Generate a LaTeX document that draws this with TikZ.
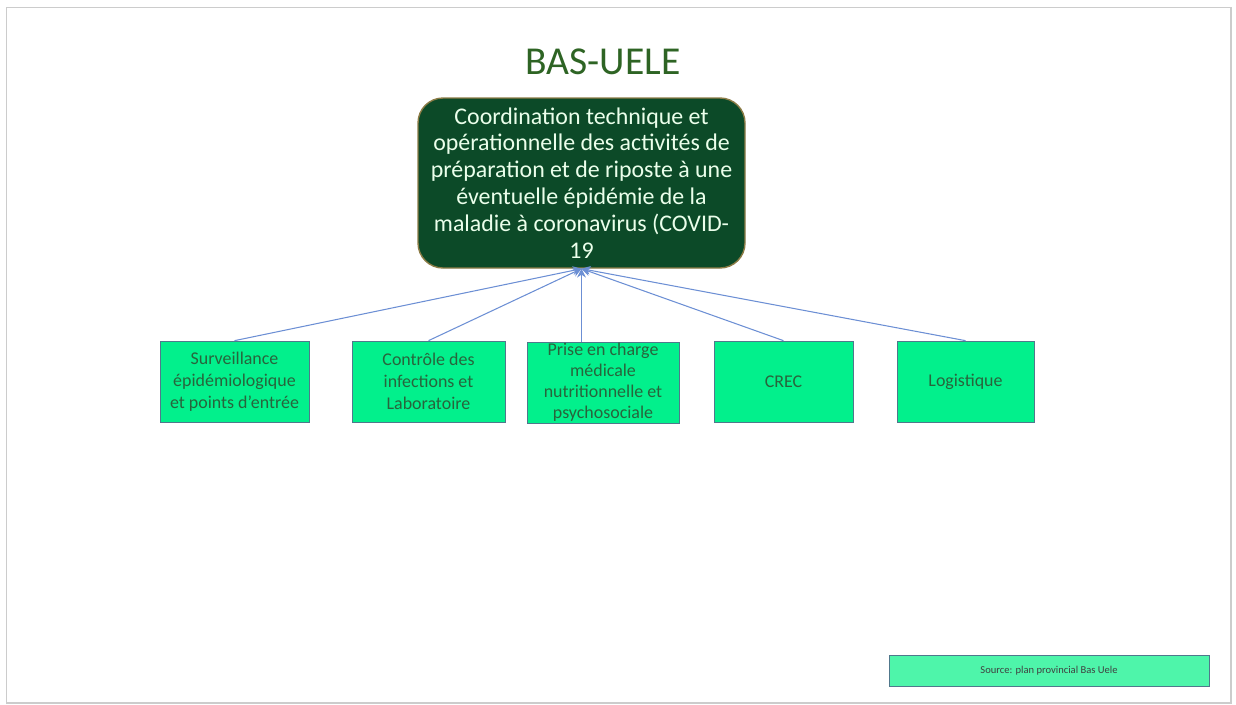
\documentclass[tikz,border=0pt]{standalone}
\usepackage{fontspec}
\setmainfont{Carlito}
\usepackage{tikz}
\definecolor{titlegreen}{RGB}{46,100,36}
\definecolor{darkgreen}{RGB}{12,74,40}
\definecolor{olive}{RGB}{140,124,70}
\definecolor{spring}{RGB}{2,240,140}
\definecolor{aqua}{RGB}{78,245,170}
\definecolor{boxline}{RGB}{80,120,140}
\definecolor{boxtext}{RGB}{40,100,60}
\definecolor{arrowblue}{RGB}{108,143,212}
\usetikzlibrary{positioning,arrows.meta}

\begin{document}
\begin{tikzpicture}[
        topnode/.style={draw=olive,fill=darkgreen,rounded corners=0.5cm,line width=0.8pt,
                text=white!92!green,align=center,font=\fontsize{13.6}{15.3}\selectfont,
                minimum width=6.54cm,minimum height=3.4cm,inner sep=1pt},
        subnode/.style={draw=boxline,fill=spring,text=boxtext,align=center,
                font=\fontsize{10.2}{12.4}\selectfont,minimum height=1.62cm,inner sep=1pt},
        srcnode/.style={draw=boxline,fill=aqua,text=black!75,
                font=\fontsize{6}{7}\selectfont,minimum width=6.4cm,minimum height=0.62cm},
        conn/.style={draw=arrowblue,line width=0.6pt,-{Stealth[length=5pt,width=5pt]}}
        ]
        \useasboundingbox (0,0) rectangle (24.72,-14.08);

        % the page
        \draw[black!20,line width=0.9pt] (0.13,-0.15) rectangle (24.62,-14.06);

        % the title
        \node[text=titlegreen,font=\fontsize{22.5}{26}\selectfont] (title) at (12.06,-1.24) {BAS-UELE};

        % the coordination
        \node[topnode] (top) at (11.63,-3.66) {Coordination technique et\\
                opérationnelle des activités de\\
                préparation et de riposte à une\\
                éventuelle épidémie de la\\
                maladie à coronavirus (COVID-\\
                19};

        % the commissions
        \node[subnode,minimum width=2.98cm] (b1) at (4.69,-7.63) {Surveillance\\ épidémiologique\\ et points d’entrée};
        \node[subnode,minimum width=3.06cm] (b2) at (8.57,-7.63) {Contrôle des\\ infections et\\ Laboratoire};
        \node[subnode,minimum width=3.04cm,inner sep=0pt,font=\fontsize{10.2}{11.9}\selectfont] (b3) at (12.06,-7.65) {Prise en charge\\ médicale\\ nutritionnelle et\\ psychosociale};
        \node[subnode,minimum width=2.78cm] (b4) at (15.67,-7.63) {CREC};
        \node[subnode,minimum width=2.74cm] (b5) at (19.31,-7.63) {Logistique};

        % the source
        \node[srcnode] (src) at (20.98,-13.41) {Source: plan provincial Bas Uele};

        % the links
        \draw[conn] (b1.north) -- (top.south);
        \draw[conn] (b2.north) -- (top.south);
        \draw[conn] (b3.north -| top.south) -- (top.south);
        \draw[conn] (b4.north) -- (top.south);
        \draw[conn] (b5.north) -- (top.south);
        \end{tikzpicture}
\end{document}
